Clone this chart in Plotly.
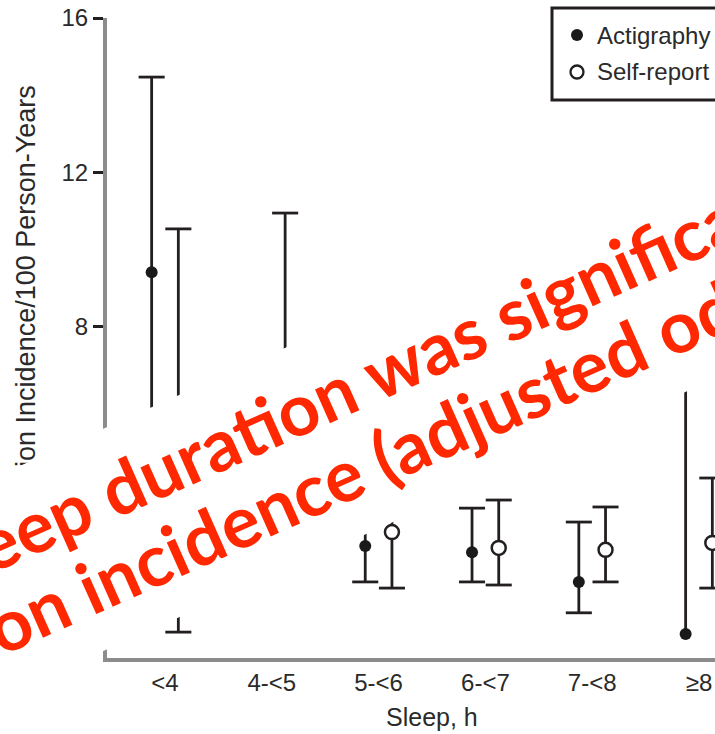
import plotly.graph_objects as go

# Sleep-duration categories and incidence per 100 person-years (point, 95% CI)
categories = ["<4", "4-<5", "5-<6", "6-<7", "7-<8", "≥8"]
acti_rate = [9.42, 4.0, 2.33, 2.17, 1.40, 0.05]
acti_low = [4.5, 2.3, 1.40, 1.40, 0.60, None]
acti_high = [14.47, 6.5, 3.9, 3.31, 2.95, 8.5]
self_rate = [4.2, 4.8, 2.69, 2.28, 2.23, 2.41]
self_low = [0.10, 2.4, 1.24, 1.32, 1.40, 1.24]
self_high = [10.54, 10.95, 4.6, 3.52, 3.34, 4.09]
y_ticks = [0, 4, 8, 12, 16]

legend_labels = ["Actigraphy", "Self-report"]
x_title = "Sleep, h"
y_title = "Hypertension Incidence/100 Person-Years"
note_lines = [
    "Short sleep duration was significantly associated",
    "with hypertension incidence (adjusted odds ratio)",
]

W, H = 715, 734
M = dict(l=107, r=0, t=18, b=76)
PLOT_W = W - M["l"] - M["r"]
PLOT_H = H - M["t"] - M["b"]

INK = "#231f20"
AXIS_GRAY = "#8c8c8c"
TEXT = "#2a2a2a"
RED = "#ff2800"
FONT = "Liberation Sans, Arial, sans-serif"

OFFSET = 0.125   # side-by-side shift of the two measures within a category
CAP = 0.122      # half width of whisker caps (category units)


def to_paper(x, y):
    """Pixel position on the page -> paper coordinates."""
    return (x - M["l"]) / PLOT_W, (H - M["b"] - y) / PLOT_H


def whisker_path(centers, rates, low, high):
    xs, ys = [], []
    for xc, r, lo, hi in zip(centers, rates, low, high):
        bottom = lo if lo is not None else r
        xs += [xc, xc, None, xc - CAP, xc + CAP, None]
        ys += [bottom, hi, None, hi, hi, None]
        if lo is not None:
            xs += [xc - CAP, xc + CAP, None]
            ys += [lo, lo, None]
    return xs, ys


idx = list(range(len(categories)))
acti_x = [i - OFFSET for i in idx]
self_x = [i + OFFSET for i in idx]

fig = go.Figure()

for xs_c, rates, lo, hi in [(acti_x, acti_rate, acti_low, acti_high),
                            (self_x, self_rate, self_low, self_high)]:
    wx, wy = whisker_path(xs_c, rates, lo, hi)
    fig.add_trace(go.Scatter(x=wx, y=wy, mode="lines",
                             line=dict(color=INK, width=2.8),
                             hoverinfo="skip", showlegend=False))

fig.add_trace(go.Scatter(x=acti_x, y=acti_rate, mode="markers",
                         name=legend_labels[0], showlegend=False,
                         marker=dict(symbol="circle", size=12, color="#1a1a1a")))
fig.add_trace(go.Scatter(x=self_x, y=self_rate, mode="markers",
                         name=legend_labels[1], showlegend=False,
                         marker=dict(symbol="circle", size=14, color="white",
                                     line=dict(color=INK, width=2.5))))

# legend box drawn in page space
shapes = []
lx0, ly0 = to_paper(552, 8)
lx1, ly1 = to_paper(790, 100)
shapes.append(dict(type="rect", xref="paper", yref="paper",
                   x0=lx0, x1=lx1, y0=ly1, y1=ly0,
                   line=dict(color=INK, width=3), fillcolor="white", layer="above"))
for (cx, cy), filled in [((577, 35), True), ((577, 72), False)]:
    r = 6 if filled else 6.5
    ax0, ay0 = to_paper(cx - r, cy - r)
    ax1, ay1 = to_paper(cx + r, cy + r)
    shapes.append(dict(type="circle", xref="paper", yref="paper",
                       x0=ax0, x1=ax1, y0=ay1, y1=ay0, layer="above",
                       fillcolor="#1a1a1a" if filled else "white",
                       line=dict(color=INK, width=0 if filled else 2.3)))

annotations = []
for label, (tx, ty) in zip(legend_labels, [(595, 35), (595, 72)]):
    px_, py_ = to_paper(tx, ty)
    annotations.append(dict(xref="paper", yref="paper", x=px_, y=py_,
                            text=label, showarrow=False, xanchor="left",
                            yanchor="middle",
                            font=dict(family=FONT, size=24, color=TEXT)))

# axis titles
annotations.append(dict(xref="x", yref="paper", x=(len(categories) - 1) / 2,
                        y=to_paper(0, 717)[1], text=x_title, showarrow=False,
                        xanchor="center", yanchor="middle",
                        font=dict(family=FONT, size=25, color=TEXT)))
annotations.append(dict(xref="paper", yref="paper", x=to_paper(26, 0)[0], y=0.5,
                        text=y_title, showarrow=False, textangle=-90,
                        xanchor="center", yanchor="middle",
                        font=dict(family=FONT, size=27, color=TEXT)))

# slanted caption on a white band
ANGLE = -24
bx, by = to_paper(357, 427)
annotations.append(dict(xref="paper", yref="paper", x=bx, y=by, text=" ",
                        showarrow=False, textangle=ANGLE, width=2400, height=202,
                        bgcolor="white", borderpad=0,
                        xanchor="center", yanchor="middle"))
for line, (cx, cy) in zip(note_lines, [(464, 333), (250, 515)]):
    nx, ny = to_paper(cx, cy)
    annotations.append(dict(xref="paper", yref="paper", x=nx, y=ny, text=line,
                            showarrow=False, textangle=ANGLE,
                            xanchor="center", yanchor="middle",
                            font=dict(family="Lato, Carlito, sans-serif", size=72,
                                      color=RED, weight="bold")))

fig.update_layout(
    width=W, height=H, autosize=False,
    margin=dict(l=M["l"], r=M["r"], t=M["t"], b=M["b"], pad=0),
    paper_bgcolor="white", plot_bgcolor="white",
    showlegend=False,
    shapes=shapes, annotations=annotations,
    xaxis=dict(range=[-0.543, 5.150], tickvals=idx, ticktext=categories,
               showgrid=False, zeroline=False, ticks="",
               ticklabeloverflow="allow",
               showline=True, linecolor=AXIS_GRAY, linewidth=4,
               tickfont=dict(family=FONT, size=24, color=TEXT)),
    yaxis=dict(range=[-0.57, 16], tickvals=y_ticks,
               showgrid=False, zeroline=False,
               ticks="outside", ticklen=10, tickwidth=3, tickcolor=INK,
               showline=True, linecolor=AXIS_GRAY, linewidth=4,
               tickfont=dict(family=FONT, size=24, color=TEXT)),
)

fig.write_html("out.html")
